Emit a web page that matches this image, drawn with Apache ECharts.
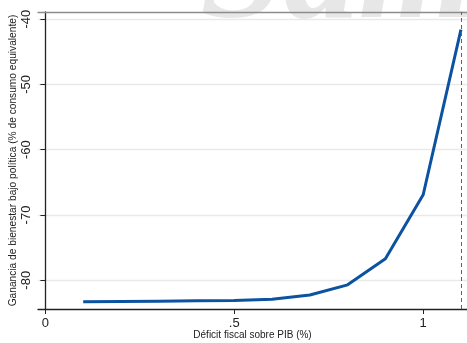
<!DOCTYPE html>
<html>
<head>
<meta charset="utf-8">
<script src="https://cdn.jsdelivr.net/npm/echarts@6/dist/echarts.min.js"></script>
<style>
  html, body { margin: 0; padding: 0; background: #fff; }
  #chart { width: 467px; height: 343px; }
</style>
</head>
<body>
<div id="chart"></div>
<script>
// Déficit fiscal (% del PIB) y ganancia de bienestar asociada
const deficit = [0.1, 0.2, 0.3, 0.4, 0.5, 0.6, 0.7, 0.8, 0.9, 1.0, 1.1];
const ganancia = [-83.3, -83.25, -83.2, -83.15, -83.1, -82.9, -82.25, -80.7, -76.7, -66.9, -41.6];
const xTicks = [0, 0.5, 1];
const yTicks = [-80, -70, -60, -50, -40];
const limite = 1.1;

const xLabel = v => (v === 0 ? '0' : (v === 1 ? '1' : String(v).replace(/^0/, '')));

const chart = echarts.init(document.getElementById('chart'), null, { renderer: 'canvas' });
chart.setOption({
  animation: false,
  backgroundColor: '#ffffff',
  textStyle: { fontFamily: 'Liberation Sans, Arial, sans-serif' },
  graphic: [{
    type: 'text',
    left: 200,
    top: -97,
    z: -10,
    style: {
      text: 'Sam',
      font: 'italic bold 150px "Liberation Serif", serif',
      fill: '#e7e7e7'
    }
  }],
  grid: { left: 38, right: 0, top: 12, bottom: 34, containLabel: false, outerBoundsMode: 'none' },
  xAxis: [{
    type: 'value',
    min: -0.0196,
    max: 1.116,
    name: 'Déficit fiscal sobre PIB (%)',
    nameLocation: 'middle',
    nameGap: 21,
    nameMoveOverlap: false,
    nameTextStyle: { fontSize: 10, color: '#222' },
    axisLine: { show: true, lineStyle: { color: '#222', width: 1.3 } },
    axisTick: { show: true, length: 5, customValues: xTicks, lineStyle: { color: '#222' } },
    axisLabel: { customValues: xTicks, formatter: xLabel, fontSize: 13, color: '#222', margin: 8 },
    splitLine: { show: false }
  }, {
    type: 'value',
    position: 'top',
    min: -0.0196,
    max: 1.116,
    axisLine: { show: true, onZero: false, lineStyle: { color: '#8c8c8c', width: 1.3 } },
    axisTick: { show: false },
    axisLabel: { show: false },
    splitLine: { show: false }
  }],
  yAxis: {
    type: 'value',
    min: -84.4,
    max: -38.9,
    name: 'Ganancia de bienestar bajo política (% de consumo equivalente)',
    nameLocation: 'middle',
    nameGap: 20,
    nameMoveOverlap: false,
    nameRotate: 90,
    nameTextStyle: { fontSize: 10.2, color: '#222' },
    axisLine: { show: true, lineStyle: { color: '#222', width: 1.3 } },
    axisTick: { show: true, length: 5, customValues: yTicks, lineStyle: { color: '#222' } },
    axisLabel: { customValues: yTicks, rotate: 90, fontSize: 13, color: '#222', margin: 5 },
    splitLine: { show: true, lineStyle: { color: '#e9e9e9', width: 1.3 } }
  },
  series: [{
    type: 'line',
    data: deficit.map((x, i) => [x, ganancia[i]]),
    symbol: 'none',
    lineStyle: { color: '#0b53a0', width: 3 },
    z: 3,
    markLine: {
      silent: true,
      symbol: 'none',
      label: { show: false },
      lineStyle: { color: '#b8413f', type: [4, 3], width: 1 },
      data: [{ xAxis: limite }]
    }
  }]
});
</script>
</body>
</html>
